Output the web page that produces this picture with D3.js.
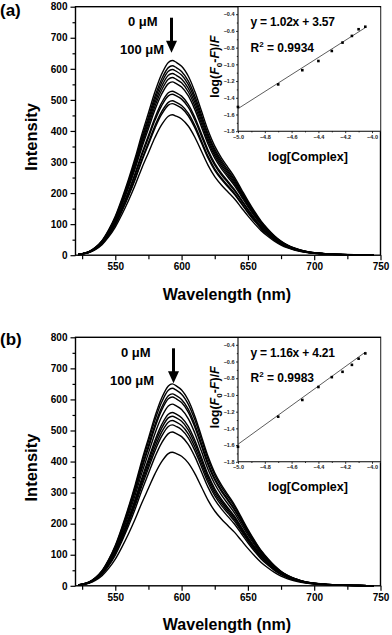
<!DOCTYPE html>
<html lang="en">
<head>
<meta charset="UTF-8">
<title>Emission quenching</title>
<style>
  body { margin: 0; background: #fff; }
  svg { display: block; font-family: "Liberation Sans", Arial, sans-serif; font-weight: bold; }
</style>
</head>
<body>
<div id="chart"></div>
<script src="https://d3js.org/d3.v7.min.js"></script>
<script>
var wavelengths = [522, 525, 530, 535, 540, 545, 550, 555, 560, 565, 570, 575, 580, 585, 590, 593,
                   596, 600, 605, 610, 615, 620, 625, 630, 635, 640, 645, 650, 655, 660, 665, 670,
                   675, 680, 685, 690, 695, 700, 710, 720, 730, 740, 745];
var profile = [0.004, 0.008, 0.018, 0.04, 0.075, 0.13, 0.2, 0.29, 0.39, 0.5, 0.62, 0.73, 0.84, 0.93, 0.99, 1.0,
               0.99, 0.97, 0.92, 0.84, 0.74, 0.64, 0.56, 0.5, 0.45, 0.4, 0.34, 0.28, 0.225, 0.175, 0.135, 0.1,
               0.072, 0.052, 0.037, 0.026, 0.018, 0.013, 0.007, 0.004, 0.002, 0.001, 0.0005];

// peak intensity of each spectrum, 0 uM ... 100 uM
var peaksA = [627, 610, 598, 585, 572, 558, 528, 518, 497, 488, 452];
var peaksB = [650, 636, 618, 608, 585, 558, 546, 532, 518, 495, 430];

// inset data
var logComplex = [-5.0, -4.70, -4.52, -4.40, -4.30, -4.22, -4.15, -4.10, -4.05];
var quenchA = [-1.51, -1.24, -1.07, -0.96, -0.84, -0.74, -0.66, -0.58, -0.55];
var quenchB = [-1.62, -1.26, -1.06, -0.905, -0.787, -0.723, -0.64, -0.566, -0.503];
var fitA = { slope: 1.02, intercept: 3.57, r2: "0.9934", eq: "y = 1.02x + 3.57" };
var fitB = { slope: 1.16, intercept: 4.21, r2: "0.9983", eq: "y = 1.16x + 4.21" };

var xTicks = [550, 600, 650, 700, 750];
var yTicks = [0, 100, 200, 300, 400, 500, 600, 700, 800];
var insetXTicks = [-5.0, -4.8, -4.6, -4.4, -4.2, -4.0];
var insetYTicks = [-0.4, -0.6, -0.8, -1.0, -1.2, -1.4, -1.6, -1.8];

var width = 392, height = 635;
var svg = d3.select("#chart").append("svg")
    .attr("width", width)
    .attr("height", height);

function drawPanel(opts) {
    var g = svg.append("g");
    var left = 75.5, right = 380.5, top = opts.top, bottom = opts.top + 248.5;

    var x = d3.scaleLinear().domain([520, 750]).range([left, right]);
    var y = d3.scaleLinear().domain([0, 800]).range([bottom, top]);

    // spectra
    var line = d3.line()
        .x(function(d) { return x(d[0]); })
        .y(function(d) { return y(d[1]); })
        .curve(d3.curveCatmullRom);

    opts.peaks.forEach(function(p) {
        var pts = wavelengths.map(function(w, i) { return [w, profile[i] * p]; });
        g.append("path")
            .attr("d", line(pts))
            .attr("fill", "none")
            .attr("stroke", "#000")
            .attr("stroke-width", 1.4);
    });

    // axes
    var xAxis = d3.axisBottom(x).tickValues(xTicks).tickSize(5).tickPadding(3).tickFormat(d3.format("d"));
    var xMinor = d3.axisBottom(x).tickValues(d3.range(525, 750, 50)).tickSize(4).tickFormat("");
    var yAxis = d3.axisLeft(y).tickValues(yTicks).tickSize(5).tickPadding(3).tickFormat(d3.format("d"));
    var yMinor = d3.axisLeft(y).tickValues(d3.range(50, 800, 100)).tickSize(3).tickFormat("");

    [xAxis, xMinor].forEach(function(a) {
        g.append("g").attr("transform", "translate(0," + bottom + ")").call(a);
    });
    [yAxis, yMinor].forEach(function(a) {
        g.append("g").attr("transform", "translate(" + left + ",0)").call(a);
    });
    g.selectAll(".domain").remove();
    g.selectAll(".tick line").attr("stroke", "#000").attr("stroke-width", 1.2);
    g.selectAll(".tick text").attr("font-size", 10).attr("font-weight", "bold")
        .attr("font-family", "'Liberation Sans', Arial, sans-serif").attr("fill", "#000");

    g.append("rect")
        .attr("x", left).attr("y", top)
        .attr("width", right - left).attr("height", bottom - top)
        .attr("fill", "none").attr("stroke", "#000").attr("stroke-width", 1.4);

    // titles
    g.append("text")
        .attr("x", (left + right) / 2 - 1).attr("y", bottom + 44.5)
        .attr("text-anchor", "middle").attr("font-size", 16)
        .text("Wavelength (nm)");
    g.append("text")
        .attr("transform", "translate(37," + ((top + bottom) / 2 + 6) + ") rotate(-90)")
        .attr("text-anchor", "middle").attr("font-size", 16.5)
        .text("Intensity");
    g.append("text")
        .attr("x", 0).attr("y", opts.labelY)
        .attr("font-size", 17)
        .text(opts.label);

    // arrow and concentration notes
    var ax = opts.arrowX;
    g.append("line")
        .attr("x1", ax).attr("x2", ax)
        .attr("y1", top + 11).attr("y2", top + 36)
        .attr("stroke", "#000").attr("stroke-width", 3);
    g.append("path")
        .attr("d", "M" + (ax - 5.5) + "," + (top + 34) + "L" + (ax + 5.5) + "," + (top + 34) +
                   "L" + ax + "," + (top + 46) + "Z")
        .attr("fill", "#000");
    g.append("text").attr("x", opts.note0X).attr("y", top + 19.5).attr("font-size", 13).text("0 \u03bcM");
    g.append("text").attr("x", opts.note100X).attr("y", top + 47.5).attr("font-size", 13).text("100 \u03bcM");

    // inset
    var il = 238, ir = 381, it = top + 7.5, ib = top + 124.5;
    var ix = d3.scaleLinear().domain([-5.0, -4.0]).range([il, il + 134]);
    var iy = d3.scaleLinear().domain([-1.8, -0.4]).range([ib, it]);

    var ig = g.append("g");
    ig.append("rect")
        .attr("x", il).attr("y", top + 0.7)
        .attr("width", ir - il - 0.7).attr("height", ib - top)
        .attr("fill", "#fff");

    var ixAxis = d3.axisBottom(ix).tickValues(insetXTicks).tickSize(2).tickPadding(1.5).tickFormat(d3.format(".1f"));
    var iyAxis = d3.axisLeft(iy).tickValues(insetYTicks).tickSize(2).tickPadding(1.5).tickFormat(d3.format(".1f"));
    var ixMinor = d3.axisBottom(ix).tickValues([-4.9, -4.7, -4.5, -4.3, -4.1]).tickSize(1.2).tickFormat("");
    var iyMinor = d3.axisLeft(iy).tickValues([-0.5, -0.7, -0.9, -1.1, -1.3, -1.5, -1.7]).tickSize(1.2).tickFormat("");
    [ixAxis, ixMinor].forEach(function(a) {
        ig.append("g").attr("transform", "translate(0," + ib + ")").call(a);
    });
    [iyAxis, iyMinor].forEach(function(a) {
        ig.append("g").attr("transform", "translate(" + il + ",0)").call(a);
    });
    ig.selectAll(".domain").remove();
    ig.selectAll(".tick line").attr("stroke", "#000").attr("stroke-width", 0.8);
    ig.selectAll(".tick text").attr("font-size", 5.5).attr("font-weight", "bold")
        .attr("font-family", "'Liberation Sans', Arial, sans-serif").attr("fill", "#222");

    ig.append("line").attr("x1", il).attr("x2", il).attr("y1", top).attr("y2", ib)
        .attr("stroke", "#000").attr("stroke-width", 1.1);
    ig.append("line").attr("x1", il).attr("x2", ir).attr("y1", ib).attr("y2", ib)
        .attr("stroke", "#000").attr("stroke-width", 1.1);

    var fit = opts.fit;
    var xEnds = [-5.0, -4.05];
    ig.append("line")
        .attr("x1", ix(xEnds[0])).attr("y1", iy(fit.slope * xEnds[0] + fit.intercept))
        .attr("x2", ix(xEnds[1])).attr("y2", iy(fit.slope * xEnds[1] + fit.intercept))
        .attr("stroke", "#333").attr("stroke-width", 0.8);

    ig.selectAll(".pt")
        .data(logComplex.map(function(v, i) { return [v, opts.quench[i]]; }))
        .enter().append("rect")
        .attr("x", function(d) { return ix(d[0]) - 1.3; })
        .attr("y", function(d) { return iy(d[1]) - 1.3; })
        .attr("width", 2.6).attr("height", 2.6)
        .attr("fill", "#000");

    ig.append("text").attr("x", 250.5).attr("y", top + 19.7).attr("font-size", 12)
        .attr("letter-spacing", -0.2).text(fit.eq);
    var r2 = ig.append("text").attr("x", 250.5).attr("y", top + 44.8).attr("font-size", 12);
    r2.append("tspan").text("R");
    r2.append("tspan").attr("font-size", 8).attr("dy", -5).text("2");
    r2.append("tspan").attr("dy", 5).text(" = " + fit.r2);

    ig.append("text")
        .attr("x", 308).attr("y", top + 154)
        .attr("text-anchor", "middle").attr("font-size", 12.5)
        .text("log[Complex]");

    var yl = ig.append("text")
        .attr("transform", "translate(219," + (top + 60) + ") rotate(-90)")
        .attr("text-anchor", "middle").attr("font-size", 12.5);
    yl.append("tspan").text("log(");
    yl.append("tspan").attr("font-style", "italic").text("F");
    yl.append("tspan").attr("font-size", 8).attr("dy", 3).text("0");
    yl.append("tspan").attr("dy", -3).text("-");
    yl.append("tspan").attr("font-style", "italic").text("F");
    yl.append("tspan").text(")/");
    yl.append("tspan").attr("font-style", "italic").text("F");
}

drawPanel({ top: 6.7, peaks: peaksA, quench: quenchA, fit: fitA, label: "(a)", labelY: 16,
            arrowX: 171.5, note0X: 128, note100X: 120 });
drawPanel({ top: 337.3, peaks: peaksB, quench: quenchB, fit: fitB, label: "(b)", labelY: 345,
            arrowX: 173.5, note0X: 121, note100X: 110 });
</script>
</body>
</html>
